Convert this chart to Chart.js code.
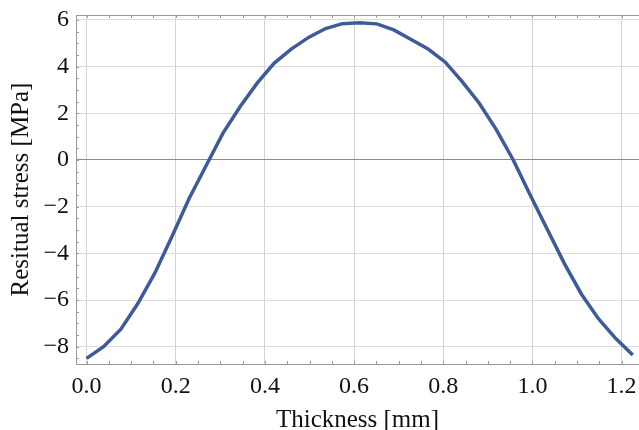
<!DOCTYPE html>
<html>
<head>
<meta charset="utf-8">
<script src="https://cdn.jsdelivr.net/npm/chart.js@4/dist/chart.umd.min.js"></script>
<style>
  html, body { margin: 0; padding: 0; background: #fff; }
  #wrap { width: 639px; height: 430px; }
</style>
</head>
<body>
<div id="wrap"><canvas id="stressChart" width="639" height="430"></canvas></div>
<script>
// thickness positions (mm) and residual stress (MPa)
const thickness = [0, 0.038, 0.077, 0.115, 0.153, 0.191, 0.230, 0.268, 0.306, 0.345, 0.383,
  0.421, 0.459, 0.498, 0.536, 0.574, 0.612, 0.651, 0.689, 0.727, 0.766, 0.804, 0.842,
  0.880, 0.919, 0.957, 0.995, 1.034, 1.072, 1.110, 1.148, 1.187, 1.225];
const stress = [-8.5, -8.0, -7.25, -6.15, -4.85, -3.3, -1.65, -0.25, 1.15, 2.3, 3.3,
  4.15, 4.75, 5.25, 5.63, 5.84, 5.88, 5.83, 5.57, 5.17, 4.75, 4.2, 3.37,
  2.45, 1.3, 0.0, -1.5, -3.0, -4.45, -5.75, -6.8, -7.65, -8.35];

const xTicks = [0, 0.2, 0.4, 0.6, 0.8, 1.0, 1.2];
const yTicks = [-8, -6, -4, -2, 0, 2, 4, 6];

const FRAME = '#9a9a9a';
const LABEL_FONT = 'Liberation Serif';

// Mathematica-style frame: top edge plus small inward minor ticks
const framePlugin = {
  id: 'frame',
  afterDatasetsDraw(chart) {
    const { ctx, chartArea: a, scales: { x, y } } = chart;
    ctx.save();
    ctx.strokeStyle = FRAME;
    ctx.lineWidth = 1;
    ctx.beginPath();
    ctx.moveTo(a.left, a.top + 0.5);
    ctx.lineTo(a.right, a.top + 0.5);
    // minor ticks along x every 0.05
    for (let v = 0; v <= 1.25; v += 0.05) {
      const px = Math.round(x.getPixelForValue(v)) + 0.5;
      if (px < a.left || px > a.right) continue;
      ctx.moveTo(px, a.bottom);
      ctx.lineTo(px, a.bottom - 3);
      ctx.moveTo(px, a.top);
      ctx.lineTo(px, a.top + 3);
    }
    // minor ticks along y every 0.5
    for (let v = -8.5; v <= 6; v += 0.5) {
      const py = Math.round(y.getPixelForValue(v)) + 0.5;
      if (py < a.top || py > a.bottom) continue;
      ctx.moveTo(a.left, py);
      ctx.lineTo(a.left + 3, py);
    }
    ctx.stroke();
    ctx.restore();
  }
};

const ctx = document.getElementById('stressChart').getContext('2d');
const chart = new Chart(ctx, {
  type: 'line',
  data: {
    datasets: [{
      data: thickness.map((t, i) => ({ x: t, y: stress[i] })),
      borderColor: '#3d5a99',
      borderWidth: 3.5,
      pointRadius: 0,
      tension: 0,
      fill: false
    }]
  },
  options: {
    responsive: false,
    animation: false,
    layout: { padding: { top: 15, right: 0, left: 0, bottom: 0 } },
    plugins: {
      legend: { display: false },
      tooltip: { enabled: false }
    },
    scales: {
      x: {
        type: 'linear',
        min: -0.0237,
        max: 1.239,
        afterBuildTicks: s => { s.ticks = xTicks.map(v => ({ value: v })); },
        afterFit: s => { s.height = 66; s.paddingRight = 0; s.paddingLeft = 0; },
        ticks: {
          color: '#111',
          font: { family: LABEL_FONT, size: 24 },
          padding: 8,
          maxRotation: 0,
          callback: v => v.toFixed(1)
        },
        grid: { color: '#d4d4d4', lineWidth: 1, drawTicks: false },
        border: { color: FRAME, width: 1 },
        title: {
          display: true,
          text: 'Thickness [mm]',
          color: '#111',
          font: { family: LABEL_FONT, size: 25 },
          padding: { top: 0, bottom: -5 }
        }
      },
      y: {
        min: -8.74,
        max: 6.21,
        afterBuildTicks: s => { s.ticks = yTicks.map(v => ({ value: v })); },
        afterFit: s => { s.width = 76; s.paddingTop = 0; s.paddingBottom = 0; },
        ticks: {
          color: '#111',
          font: { family: LABEL_FONT, size: 24 },
          padding: 7,
          callback: v => (v < 0 ? '\u2212' + Math.abs(v) : String(v))
        },
        grid: {
          color: c => (c.tick && c.tick.value === 0 ? '#8c8c8c' : '#dcdcdc'),
          lineWidth: 1,
          drawTicks: false
        },
        border: { color: FRAME, width: 1 },
        title: {
          display: true,
          text: 'Resitual stress [MPa]',
          color: '#111',
          font: { family: LABEL_FONT, size: 25 },
          padding: { top: 6, bottom: 0 }
        }
      }
    }
  },
  plugins: [framePlugin]
});
</script>
</body>
</html>
